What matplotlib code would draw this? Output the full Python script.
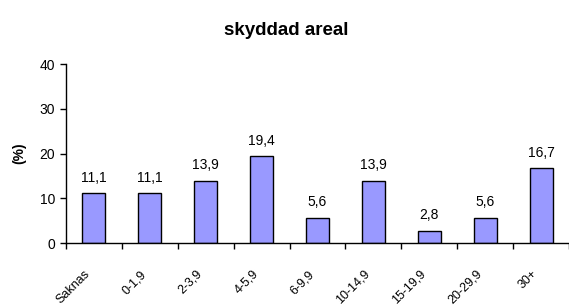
import numpy as np
import matplotlib.pyplot as plt

plt.rcParams['font.family'] = ['Liberation Sans', 'DejaVu Sans']

categories = ["Saknas", "0-1,9", "2-3,9", "4-5,9", "6-9,9", "10-14,9", "15-19,9", "20-29,9", "30+"]
values = [11.1, 11.1, 13.9, 19.4, 5.6, 13.9, 2.8, 5.6, 16.7]
yticks = [0, 10, 20, 30, 40]

fig = plt.figure(figsize=(5.69, 3.05), dpi=100)
ax = fig.add_axes([0.116, 0.203, 0.884, 0.587])

x = np.arange(len(categories))
bars = ax.bar(x, values, width=0.41, color='#9999FF', edgecolor='black', linewidth=1.0)
for xi, v in zip(x, values):
    ax.text(xi, v + 2.6, f"{v:.1f}".replace('.', ','), ha='center', va='baseline', fontsize=10)

ax.set_xlim(-0.5, len(categories) - 0.5)
ax.set_ylim(0, 40)
ax.set_yticks(yticks)
ax.set_xticks(x)
ax.set_xticklabels([])
# category labels, slanted, hanging below the axis
for xi, lab in zip(x, categories):
    ax.annotate(lab, xy=(xi, 0), xycoords=('data', 'axes fraction'),
                xytext=(-7, -18), textcoords='offset points',
                rotation=45, ha='right', va='top', rotation_mode='anchor',
                fontsize=9, annotation_clip=False)
ax.set_xticks(np.arange(len(categories) + 1) - 0.5, minor=True)
ax.tick_params(axis='x', which='major', length=0)
ax.tick_params(axis='x', which='minor', length=4, width=1, direction='out')
ax.tick_params(axis='y', length=4, width=1, labelsize=10, pad=4)

for s in ['top', 'right']:
    ax.spines[s].set_visible(False)
for s in ['left', 'bottom']:
    ax.spines[s].set_linewidth(1.0)

ax.set_ylabel("(%)", fontsize=10, fontweight='bold')
ax.yaxis.set_label_coords(-0.08, 0.5)
fig.text(0.503, 0.9, "skyddad areal", ha='center', va='center', fontsize=13.5, fontweight='bold')

fig.savefig("out.png", dpi=100)
